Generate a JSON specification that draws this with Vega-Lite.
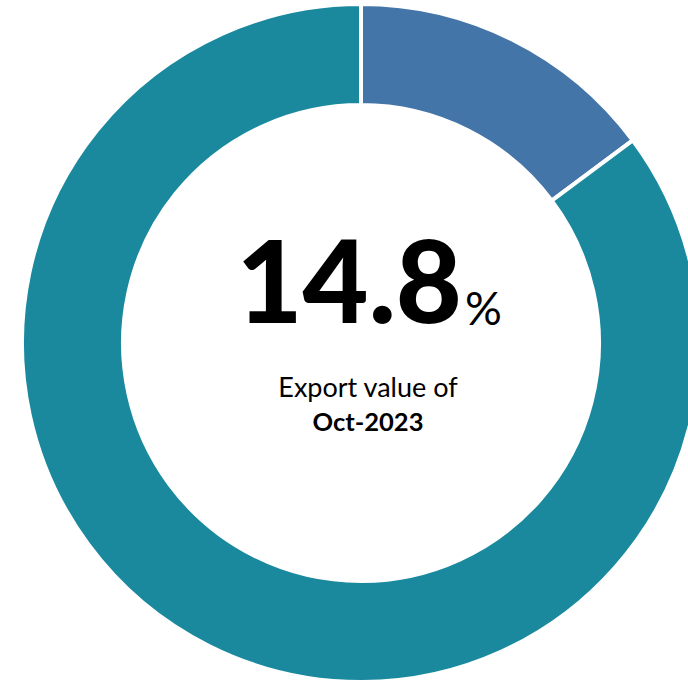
{
  "$schema": "https://vega.github.io/schema/vega-lite/v6.json",
  "width": 722,
  "height": 686,
  "autosize": {"type": "none"},
  "padding": 0,
  "background": "white",
  "config": {"view": {"stroke": null}},
  "layer": [
    {
      "data": {"values": [
        {"category": "Oct-2023", "share": 14.8, "rank": 1},
        {"category": "Rest", "share": 85.2, "rank": 2}
      ]},
      "mark": {"type": "arc", "outerRadius": 339, "innerRadius": 238, "stroke": "white", "strokeWidth": 4},
      "encoding": {
        "theta": {"field": "share", "type": "quantitative", "stack": true},
        "order": {"field": "rank", "type": "quantitative"},
        "color": {
          "field": "category", "type": "nominal", "legend": null,
          "scale": {"domain": ["Oct-2023", "Rest"], "range": ["#4475A8", "#1A899E"]}
        }
      }
    },
    {
      "data": {"values": [{"txt": "14.8"}]},
      "mark": {"type": "text", "font": "Lato", "fontWeight": 900, "fontSize": 114, "align": "right", "baseline": "alphabetic", "dx": 101, "dy": -20, "color": "black"},
      "encoding": {"text": {"field": "txt"}}
    },
    {
      "data": {"values": [{"txt": "%"}]},
      "mark": {"type": "text", "font": "Lato", "fontSize": 46, "align": "left", "baseline": "alphabetic", "dx": 104, "dy": -18, "color": "black"},
      "encoding": {"text": {"field": "txt"}}
    },
    {
      "data": {"values": [{"txt": "Export value of"}]},
      "mark": {"type": "text", "font": "Lato", "fontSize": 27, "align": "center", "baseline": "alphabetic", "dx": 7, "dy": 54, "color": "black"},
      "encoding": {"text": {"field": "txt"}}
    },
    {
      "data": {"values": [{"txt": "Oct-2023"}]},
      "mark": {"type": "text", "font": "Lato", "fontWeight": "bold", "fontSize": 25.5, "align": "center", "baseline": "alphabetic", "dx": 7, "dy": 88, "color": "black"},
      "encoding": {"text": {"field": "txt"}}
    }
  ]
}
